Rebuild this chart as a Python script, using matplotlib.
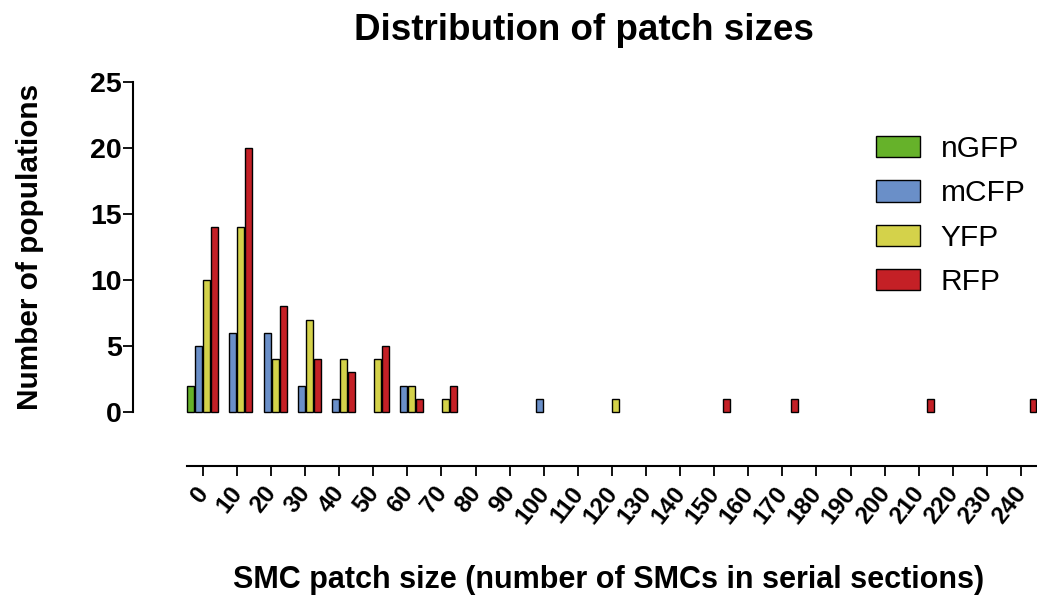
import matplotlib
matplotlib.use('Agg')
import matplotlib.pyplot as plt
import matplotlib.transforms as mtransforms
from matplotlib import font_manager
import numpy as np

# patch size bins and counts
bins = [0, 10, 20, 30, 40, 50, 60, 70, 80, 90, 100, 110, 120, 130, 140, 150,
        160, 170, 180, 190, 200, 210, 220, 230, 240]
ngfp = [2, 0, 0, 0, 0, 0, 0, 0, 0, 0, 0, 0, 0, 0, 0, 0, 0, 0, 0, 0, 0, 0, 0, 0, 0]
mcfp = [5, 6, 6, 2, 1, 0, 2, 0, 0, 0, 1, 0, 0, 0, 0, 0, 0, 0, 0, 0, 0, 0, 0, 0, 0]
yfp = [10, 14, 4, 7, 4, 4, 2, 1, 0, 0, 0, 0, 1, 0, 0, 0, 0, 0, 0, 0, 0, 0, 0, 0, 0]
rfp = [14, 20, 8, 4, 3, 5, 1, 2, 0, 0, 0, 0, 0, 0, 0, 1, 0, 1, 0, 0, 0, 1, 0, 0, 1]
series = ['nGFP', 'mCFP', 'YFP', 'RFP']
colors = ['#66b22a', '#6a8fc8', '#d4d24a', '#c42026']

names = {f.name for f in font_manager.fontManager.ttflist}
base = 'Liberation Sans' if 'Liberation Sans' in names else 'DejaVu Sans'
plt.rcParams['font.family'] = [base, 'DejaVu Sans']

W, H = 1037, 597
fig = plt.figure(figsize=(W / 100, H / 100), dpi=100)
ax = fig.add_axes([133 / W, 1 - 466 / H, 1 - 133 / W, (466 - 82) / H])

x = np.arange(len(bins))
step = 0.235
for k, (name, vals, c) in enumerate(zip(series, [ngfp, mcfp, yfp, rfp], colors)):
    v = np.array(vals, dtype=float)
    m = v > 0
    ax.bar(x[m] + (k - 1.5) * step, v[m], width=0.205, color=c,
           edgecolor='black', linewidth=1.0, label=name)

ax.set_xlim(-2.05, 24.47)
ax.set_ylim(-4.1, 25)

for s in ['top', 'right']:
    ax.spines[s].set_visible(False)
ax.spines['left'].set_bounds(0, 25)
ax.spines['bottom'].set_bounds(-0.47, 24.47)
for s in ['left', 'bottom']:
    ax.spines[s].set_linewidth(1.5)

ax.set_yticks([0, 5, 10, 15, 20, 25])
ax.set_xticks(x)
ax.set_xticklabels([str(b) for b in bins], rotation=52, ha='right', va='top',
                   rotation_mode='anchor', fontsize=17.5, fontweight='bold')
ax.tick_params(axis='both', direction='out', length=7.2, width=1.3)
ax.tick_params(axis='y', labelsize=20.5, pad=1)
ax.tick_params(axis='x', pad=4.3)
for t in ax.get_yticklabels():
    t.set_fontweight('bold')
# nudge the slanted labels left so they hang under their ticks
shift = mtransforms.ScaledTranslation(-8 / 100, 0, fig.dpi_scale_trans)
for t in ax.get_xticklabels():
    t.set_transform(t.get_transform() + shift)

fig.text(584 / W, 1 - 40 / H, 'Distribution of patch sizes', ha='center',
         va='baseline', fontsize=26.5, fontweight='bold')
fig.text(30 / W, 1 - 247 / H, 'Number of populations', rotation=90,
         ha='center', va='center', fontsize=21.4, fontweight='bold')
fig.text(609 / W, 1 - 588 / H, 'SMC patch size (number of SMCs in serial sections)',
         ha='center', va='baseline', fontsize=22, fontweight='bold')

ax.legend(loc='upper left', bbox_to_anchor=(876 / W, 1 - 135 / H),
          bbox_transform=fig.transFigure, frameon=False, fontsize=21.5,
          handlelength=1.47, handleheight=0.72, handletextpad=0.7,
          labelspacing=0.55, borderpad=0, borderaxespad=0)

fig.savefig('out.png', dpi=100)
